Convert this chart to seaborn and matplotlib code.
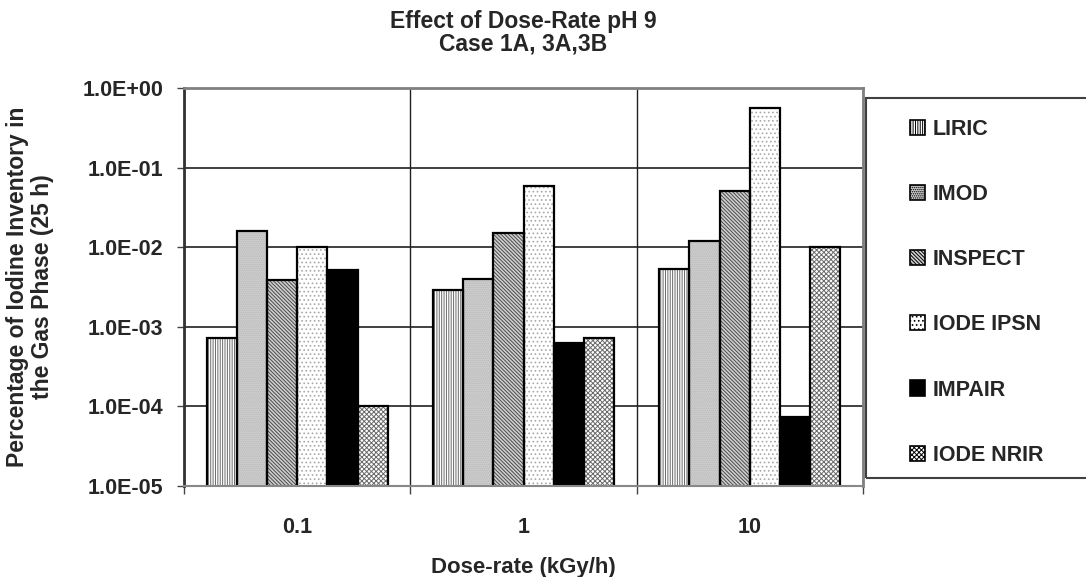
import matplotlib
matplotlib.use("Agg")
import matplotlib.pyplot as plt
import seaborn as sns
import pandas as pd
import numpy as np
from matplotlib.patches import Rectangle, Patch
from matplotlib.ticker import FuncFormatter, FixedLocator, NullLocator

# ---- data ----
dose_rates = ["0.1", "1", "10"]
models = ["LIRIC", "IMOD", "INSPECT", "IODE IPSN", "IMPAIR", "IODE NRIR"]
liric = [7.2e-4, 2.9e-3, 5.3e-3]
imod = [1.6e-2, 4.0e-3, 1.2e-2]
inspect = [3.9e-3, 1.5e-2, 5.1e-2]
iode_ipsn = [1.0e-2, 5.9e-2, 0.56]
impair = [5.2e-3, 6.2e-4, 7.4e-5]
iode_nrir = [1.0e-4, 7.2e-4, 1.0e-2]
series = [liric, imod, inspect, iode_ipsn, impair, iode_nrir]

title = "Effect of Dose-Rate pH 9\nCase 1A, 3A,3B"
ylabel = "Percentage of Iodine Inventory in\nthe Gas Phase (25 h)"
xlabel = "Dose-rate (kGy/h)"

# ---- style ----
face_colors = ["white", "#cdcdcd", "#cfcfcf", "white", "black", "white"]
hatch_colors = ["#6a6a6a", "#bababa", "#4a4a4a", "#a8a8a8", "black", "#6a6a6a"]
hatches = ["|||||||", "........", "\\" * 9, "....", "", "xxxxxxx"]

sns.set_theme(style="white")
plt.rcParams["font.family"] = ["Liberation Sans", "DejaVu Sans"]
plt.rcParams["font.weight"] = "bold"
plt.rcParams["hatch.linewidth"] = 0.7

df = pd.DataFrame({
    "dose": np.repeat(dose_rates, len(models)),
    "model": models * len(dose_rates),
    "value": [series[m][d] for d in range(len(dose_rates)) for m in range(len(models))],
})

fig = plt.figure(figsize=(10.86, 5.77), dpi=100)
ax = fig.add_axes([184/1086, 1-486/577, (863-184)/1086, (486-88)/577])

sns.barplot(data=df, x="dose", y="value", hue="model", order=dose_rates,
            hue_order=models, palette=dict(zip(models, face_colors)),
            width=0.8, ax=ax, legend=False)
ax.set_yscale("log", nonpositive="clip")

for i, cont in enumerate(ax.containers):
    for p in cont.patches:
        p.set_facecolor(face_colors[i])
        p.set_hatch(hatches[i])
        p.set_edgecolor(hatch_colors[i])
        p.set_linewidth(0)
        ax.add_patch(Rectangle(p.get_xy(), p.get_width(), p.get_height(),
                               fill=False, edgecolor="black", linewidth=1.6,
                               zorder=p.get_zorder() + 0.1))

ax.set_ylim(1e-5, 1)
ax.set_xlim(-0.5, 2.5)
ax.yaxis.set_major_locator(FixedLocator([1e-5, 1e-4, 1e-3, 1e-2, 1e-1, 1]))
ax.yaxis.set_minor_locator(NullLocator())
ax.yaxis.set_major_formatter(FuncFormatter(lambda v, pos: f"{v:.1E}"))
ax.set_xticks([-0.5, 0.5, 1.5, 2.5], minor=True)

ax.set_axisbelow(True)
ax.grid(which="major", axis="y", color="#202020", linewidth=1.2)
ax.grid(which="minor", axis="x", color="#202020", linewidth=1.0)

ax.tick_params(axis="x", which="major", length=0, pad=22, labelsize=15.5)
ax.tick_params(axis="x", which="minor", length=6, width=1, color="#444444", direction="out", bottom=True)
ax.tick_params(axis="y", which="major", length=5, width=1, color="#444444", direction="out", left=True, labelsize=15.5, pad=10)
for lab in ax.get_xticklabels() + ax.get_yticklabels():
    lab.set_fontweight("bold")

for side in ["top", "right"]:
    ax.spines[side].set_color("#808080")
    ax.spines[side].set_linewidth(2)
ax.spines["left"].set_color("#333333")
ax.spines["left"].set_linewidth(2)
ax.spines["bottom"].set_color("#888888")
ax.spines["bottom"].set_linewidth(1.5)

ax.set_xlabel(xlabel, fontsize=16, fontweight="bold", labelpad=14)
ax.set_ylabel(ylabel, fontsize=16.5, fontweight="bold", linespacing=1.1)
ax.yaxis.set_label_coords((54 - 184) / 679, 0.5)
ax.set_title(title, fontsize=16.5, fontweight="bold", pad=27, linespacing=0.98)

# legend frame (layout box) and frameless legend inside it
fig.patches.append(Rectangle((866/1086, 1-478/577), 0.3, (478-98)/577,
                             transform=fig.transFigure, fill=False,
                             edgecolor="#404040", linewidth=1.5, zorder=5))
handles = [Patch(facecolor=face_colors[i], hatch=hatches[i], edgecolor="black", linewidth=1.2)
           for i in range(len(models))]
leg = fig.legend(handles, models, loc="upper left", bbox_to_anchor=(910/1086, 1-119/577),
                 frameon=False, fontsize=15.5,
                 handlelength=0.7, handleheight=0.7, handletextpad=0.35,
                 labelspacing=2.05, borderpad=0, borderaxespad=0)
for t in leg.get_texts():
    t.set_fontweight("bold")

fig.savefig("out.png", dpi=100)
